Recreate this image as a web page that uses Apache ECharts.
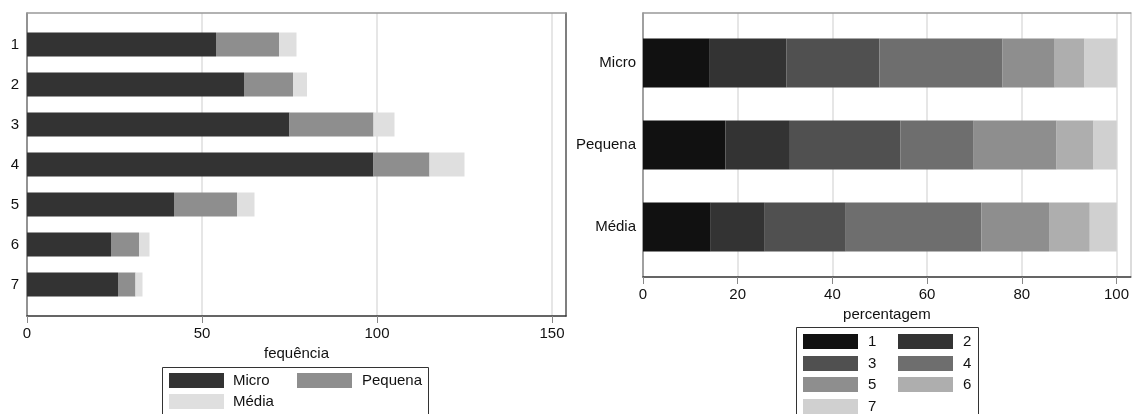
<!DOCTYPE html>
<html>
<head>
<meta charset="utf-8">
<script src="https://cdn.jsdelivr.net/npm/echarts@6/dist/echarts.min.js"></script>
<style>
html,body{margin:0;padding:0;background:#fff;}
#chart{width:1132px;height:414px;}
</style>
</head>
<body>
<div id="chart"></div>
<script>
// ---- data ----
const answerCats = ['1', '2', '3', '4', '5', '6', '7'];
const sizeClasses = ['Micro', 'Pequena', 'Média'];
// frequencies (left chart), by answer category 1..7
const freqMicro = [54, 62, 75, 99, 42, 24, 26];
const freqPequena = [18, 14, 24, 16, 18, 8, 5];
const freqMedia = [5, 4, 6, 10, 5, 3, 2];
// percentages (right chart), per answer category, across [Micro, Pequena, Média]
const pct1 = [14.1, 17.4, 14.3];
const pct2 = [16.2, 13.6, 11.4];
const pct3 = [19.6, 23.3, 17.1];
const pct4 = [26.0, 15.5, 28.6];
const pct5 = [11.0, 17.5, 14.3];
const pct6 = [6.3, 7.8, 8.6];
const pct7 = [6.8, 4.9, 5.7];
const freqTicks = [0, 50, 100, 150];
const pctTicks = [0, 20, 40, 60, 80, 100];
const leftTitle = 'fequência';
const rightTitle = 'percentagem';

// ---- styles ----
const FONT = 'Liberation Sans, Arial, sans-serif';
const TXT = '#111';
const sizeColors = ['#333333', '#8e8e8e', '#dfdfdf'];
const catColors = ['#111111', '#333333', '#505050', '#6e6e6e', '#8e8e8e', '#aeaeae', '#d0d0d0'];
const pctData = [pct1, pct2, pct3, pct4, pct5, pct6, pct7];
const freqData = [freqMicro, freqPequena, freqMedia];

const chart = echarts.init(document.getElementById('chart'), null, {renderer: 'canvas'});

function frameX(gridIndex, max, ticks, title, gap) {
  return {
    type: 'value', gridIndex: gridIndex, min: 0, max: max, position: 'bottom',
    axisLine: {show: true, onZero: false, lineStyle: {color: '#333', width: 1.5}},
    axisTick: {show: true, length: 7, customValues: ticks, lineStyle: {color: '#888'}},
    axisLabel: {show: true, customValues: ticks, margin: 10, color: TXT, fontSize: 15, fontFamily: FONT},
    splitLine: {show: true, lineStyle: {color: '#dedede', width: 1.5}},
    name: title, nameLocation: 'middle', nameGap: gap,
    nameTextStyle: {color: TXT, fontSize: 15, fontFamily: FONT}
  };
}
function borderX(gridIndex, max, color) {
  return {
    type: 'value', gridIndex: gridIndex, min: 0, max: max, position: 'top',
    axisLine: {show: true, onZero: false, lineStyle: {color: color, width: 1.5}},
    axisTick: {show: false}, axisLabel: {show: false}, splitLine: {show: false}
  };
}
function hiddenX(gridIndex, max) {
  return {
    type: 'value', gridIndex: gridIndex, min: 0, max: max,
    axisLine: {show: false}, axisTick: {show: false}, axisLabel: {show: false}, splitLine: {show: false}
  };
}
function borderY(gridIndex, pos, color) {
  return {
    type: 'value', gridIndex: gridIndex, min: 0, max: 1, position: pos,
    axisLine: {show: true, onZero: false, lineStyle: {color: color, width: 1.5}},
    axisTick: {show: false}, axisLabel: {show: false}, splitLine: {show: false}
  };
}
function catY(gridIndex, cats, margin) {
  return {
    type: 'category', gridIndex: gridIndex, data: cats, inverse: true,
    axisLine: {show: false}, axisTick: {show: false},
    axisLabel: {show: true, margin: margin, color: TXT, fontSize: 15, fontFamily: FONT},
    splitLine: {show: false}
  };
}

const series = [];
sizeClasses.forEach(function (name, i) {
  series.push({
    type: 'bar', name: name, stack: 'freq', xAxisIndex: 2, yAxisIndex: 2,
    barWidth: 24, itemStyle: {color: sizeColors[i]}, data: freqData[i],
    emphasis: {disabled: true}, animation: false
  });
});
answerCats.forEach(function (name, i) {
  series.push({
    type: 'bar', name: name, stack: 'pct', xAxisIndex: 5, yAxisIndex: 5,
    barWidth: 49, itemStyle: {color: catColors[i]}, data: pctData[i],
    emphasis: {disabled: true}, animation: false
  });
});

function legendItem(name, left, top, pad) {
  return {
    data: [name], left: left, top: top, padding: 0, orient: 'horizontal',
    itemWidth: 55, itemHeight: 15, icon: 'rect', selectedMode: false,
    textStyle: {color: TXT, fontSize: 15, fontFamily: FONT, padding: [0, 0, 0, pad]}
  };
}

const legends = [
  legendItem('Micro', 169, 373, 4),
  legendItem('Pequena', 297, 373, 5),
  legendItem('Média', 169, 394, 4),
  legendItem('1', 803, 334, 5),
  legendItem('2', 898, 334, 5),
  legendItem('3', 803, 356, 5),
  legendItem('4', 898, 356, 5),
  legendItem('5', 803, 377, 5),
  legendItem('6', 898, 377, 5),
  legendItem('7', 803, 399, 5)
];

const option = {
  backgroundColor: '#fff',
  animation: false,
  textStyle: {fontFamily: FONT},
  grid: [
    {left: 27, top: 13, width: 539, height: 303, containLabel: false},
    {left: 27, top: 24.5, width: 539, height: 280, containLabel: false},
    {left: 643, top: 13, width: 488, height: 264, containLabel: false},
    {left: 643, top: 22, width: 488, height: 246, containLabel: false}
  ],
  xAxis: [
    frameX(0, 154, freqTicks, leftTitle, 26),
    borderX(0, 154, '#999'),
    hiddenX(1, 154),
    frameX(2, 103, pctTicks, rightTitle, 25),
    borderX(2, 103, '#999'),
    hiddenX(3, 103)
  ],
  yAxis: [
    borderY(0, 'left', '#777'),
    borderY(0, 'right', '#555'),
    catY(1, answerCats, 8),
    borderY(2, 'left', '#888'),
    borderY(2, 'right', '#d0d0d0'),
    catY(3, sizeClasses, 7)
  ],
  legend: legends,
  series: series,
  graphic: [
    {type: 'rect', silent: true, shape: {x: 162.5, y: 367.5, width: 266, height: 60},
     style: {fill: 'none', stroke: '#333', lineWidth: 1}},
    {type: 'rect', silent: true, shape: {x: 796.5, y: 327.5, width: 182, height: 100},
     style: {fill: 'none', stroke: '#333', lineWidth: 1}}
  ]
};
chart.setOption(option);
</script>
</body>
</html>
